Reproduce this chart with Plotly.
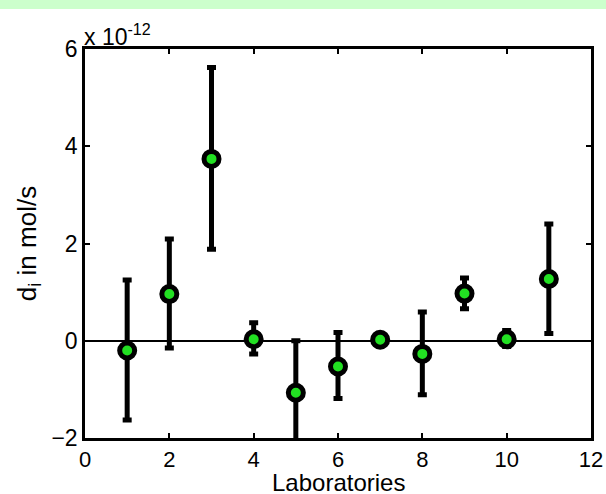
import plotly.graph_objects as go

# Data (values in units of 1e-12 mol/s)
labs = [1, 2, 3, 4, 5, 6, 7, 8, 9, 10, 11]
d_i = [-0.20, 0.96, 3.74, 0.03, -1.07, -0.53, 0.02, -0.27, 0.97, 0.03, 1.27]
err_plus = [1.45, 1.13, 1.88, 0.34, 1.07, 0.70, 0.10, 0.86, 0.32, 0.18, 1.13]
err_minus = [1.43, 1.11, 1.86, 0.30, 1.07, 0.66, 0.10, 0.84, 0.31, 0.15, 1.12]
x_ticks = [0, 2, 4, 6, 8, 10, 12]
y_ticks = [-2, 0, 2, 4, 6]

W, H = 606, 494
L, R, T, B = 85, 15, 49, 56
pw, ph = W - L - R, H - T - B

fig = go.Figure()
fig.add_trace(go.Scatter(
    x=labs, y=d_i, mode="markers",
    marker=dict(size=15, color="#22e022", line=dict(color="black", width=5)),
    error_y=dict(type="data", symmetric=False, array=err_plus, arrayminus=err_minus,
                 color="black", thickness=5, width=4.5),
    showlegend=False,
))

font = dict(family="Liberation Sans, Arial, sans-serif", size=23, color="black")

fig.update_layout(
    width=W, height=H,
    margin=dict(l=L, r=R, t=T, b=B, autoexpand=False),
    paper_bgcolor="white", plot_bgcolor="white",
    font=font,
    xaxis=dict(range=[0, 12], tickvals=x_ticks, ticks="inside", ticklen=5, tickwidth=2,
               tickcolor="black", showline=True, linecolor="black", linewidth=2.5,
               mirror="ticks", showgrid=False, zeroline=False, automargin=False,
               tickfont=dict(size=22)),
    yaxis=dict(range=[-2, 6], tickvals=y_ticks, ticks="inside", ticklen=5, tickwidth=2,
               tickcolor="black", showline=True, linecolor="black", linewidth=2.5,
               mirror="ticks", showgrid=False, zeroline=True, zerolinecolor="black",
               zerolinewidth=1.5, automargin=False,
               title=dict(text="d<sub>i</sub> in mol/s", font=dict(size=26), standoff=8),
               tickfont=dict(size=23)),
    annotations=[
        dict(text="x 10<sup>-12</sup>", xref="paper", yref="paper", x=0, y=1,
             xanchor="left", yanchor="bottom", showarrow=False,
             font=dict(size=23), yshift=-3, xshift=-3),
        dict(text="Laboratories", xref="paper", yref="paper", x=0.5, y=-(482 - (H - B)) / ph,
             xanchor="center", yanchor="middle", showarrow=False, font=dict(size=24)),
    ],
    shapes=[dict(type="rect", xref="paper", yref="paper",
                 x0=-L / pw, x1=1 + R / pw, y0=1 + (T - 9) / ph, y1=1 + T / ph + 0.01,
                 fillcolor="#ccffcc", line=dict(width=0), layer="below")],
)

fig.write_html("out.html", config={"displayModeBar": False},
               post_script="document.body.style.margin='0';document.body.style.overflow='hidden';")
